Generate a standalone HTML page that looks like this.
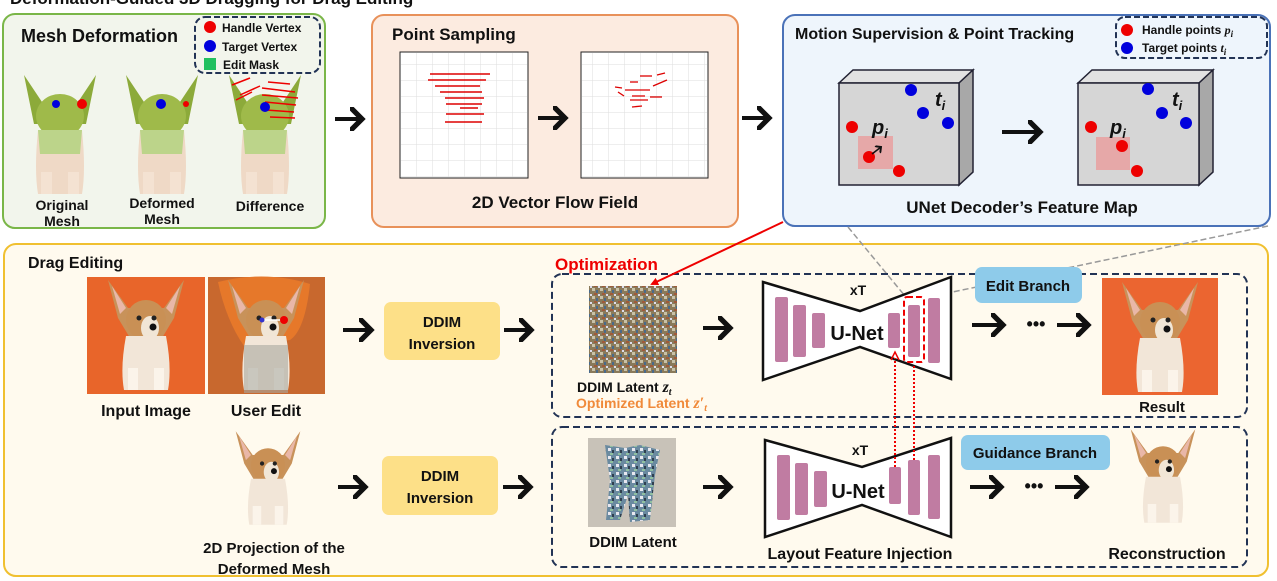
<!DOCTYPE html>
<html><head><meta charset="utf-8"><style>
html,body{margin:0;padding:0;background:#fff;}
svg{display:block;}
text{font-family:"Liberation Sans",Arial,sans-serif;font-weight:bold;fill:#111;}
</style></head><body>
<svg width="1277" height="581" viewBox="0 0 1277 581" xmlns="http://www.w3.org/2000/svg">
<defs>
<marker id="ah" markerWidth="6" markerHeight="6" refX="3" refY="3" orient="auto" markerUnits="strokeWidth">
<path d="M0,0 L3,3 L0,6" fill="none" stroke="#111" stroke-width="1.3"/>
</marker>
<marker id="rah" markerWidth="8" markerHeight="8" refX="6" refY="4" orient="auto" markerUnits="userSpaceOnUse">
<path d="M0,0 L8,4 L0,8 z" fill="#e00"/>
</marker>
<pattern id="grid" width="16" height="16" patternUnits="userSpaceOnUse">
<path d="M16 0 L0 0 0 16" fill="none" stroke="#ddd" stroke-width="1"/>
</pattern>
<pattern id="noise" width="8" height="8" patternUnits="userSpaceOnUse">
<rect width="8" height="8" fill="#8a7a5a"/>
<rect x="0" y="0" width="3" height="3" fill="#c9c2a8"/>
<rect x="4" y="2" width="2" height="3" fill="#4a6a8a"/>
<rect x="2" y="5" width="3" height="2" fill="#a05a3a"/>
<rect x="6" y="6" width="2" height="2" fill="#dde"/>
</pattern>
<pattern id="noise2" width="8" height="8" patternUnits="userSpaceOnUse">
<rect width="8" height="8" fill="#6a8aa0"/>
<rect x="0" y="0" width="3" height="3" fill="#e8e8f0"/>
<rect x="4" y="2" width="2" height="3" fill="#304050"/>
<rect x="2" y="5" width="3" height="2" fill="#90c0a0"/>
</pattern>
<g id="pdog">
<path d="M-38,-48 L-18,-20 L18,-20 L38,-48 L28,-10 L16,10 L-16,10 L-28,-10 z" fill="#c8925a"/>
<path d="M-34,-42 L-20,-20 L-26,-14 z" fill="#e9b7a8"/>
<path d="M34,-42 L20,-20 L26,-14 z" fill="#e9b7a8"/>
<ellipse cx="0" cy="-8" rx="20" ry="20" fill="#c99055"/>
<ellipse cx="4" cy="0" rx="9" ry="12" fill="#f1e6d6"/>
<circle cx="-7" cy="-10" r="2.5" fill="#222"/><circle cx="8" cy="-10" r="2.5" fill="#222"/>
<circle cx="7" cy="-1" r="3.5" fill="#111"/>
<path d="M-20,8 Q-26,40 -22,62 L22,62 Q26,40 20,8 z" fill="#f2e6d8"/>
<rect x="-18" y="40" width="10" height="22" fill="#fbf4ea"/><rect x="8" y="40" width="10" height="22" fill="#fbf4ea"/>
</g>
<g id="mdog">
<path d="M-36,-55 L-14,-22 L14,-22 L36,-55 L26,-6 L-26,-6 z" fill="#8caa3a"/>
<ellipse cx="0" cy="-14" rx="24" ry="22" fill="#9fba4a"/>
<path d="M-22,0 Q-26,40 -22,64 L22,64 Q26,40 22,0 z" fill="#efd9c6"/>
<path d="M-22,0 L22,0 L20,24 L-20,24 z" fill="#bcd48a"/>
<rect x="-19" y="42" width="11" height="22" fill="#f4e2d2"/><rect x="8" y="42" width="11" height="22" fill="#f4e2d2"/>
</g>
</defs>

<text x="10" y="4" font-size="17">Deformation-Guided 3D Dragging for Drag Editing</text>

<!-- Green panel -->
<rect x="3" y="14" width="322" height="214" rx="12" fill="#f2f5ec" stroke="#7ab648" stroke-width="2"/>
<text x="21" y="42" font-size="18">Mesh Deformation</text>
<rect x="195" y="17" width="125" height="56" rx="10" fill="none" stroke="#223355" stroke-width="2" stroke-dasharray="6,3"/>
<circle cx="210" cy="27" r="6" fill="#e00"/><text x="222" y="32" font-size="12">Handle Vertex</text>
<circle cx="210" cy="46" r="6" fill="#00d"/><text x="222" y="51" font-size="12">Target Vertex</text>
<rect x="204" y="58" width="12" height="12" fill="#22c060"/><text x="223" y="69" font-size="12">Edit Mask</text>
<use href="#mdog" x="60" y="130"/>
<circle cx="56" cy="104" r="4" fill="#00d"/><circle cx="82" cy="104" r="5" fill="#e00"/>
<use href="#mdog" x="162" y="130"/>
<circle cx="161" cy="104" r="5" fill="#00d"/><circle cx="186" cy="104" r="3" fill="#e00"/>
<use href="#mdog" x="265" y="130"/>
<g stroke="#e00" stroke-width="1.5">
<line x1="232" y1="85" x2="250" y2="78"/><line x1="240" y1="95" x2="260" y2="86"/><line x1="262" y1="88" x2="295" y2="92"/>
<line x1="262" y1="95" x2="298" y2="98"/><line x1="265" y1="102" x2="296" y2="105"/><line x1="266" y1="110" x2="294" y2="112"/>
<line x1="270" y1="117" x2="295" y2="118"/><line x1="268" y1="82" x2="290" y2="84"/><line x1="236" y1="100" x2="252" y2="92"/>
</g>
<circle cx="265" cy="107" r="5" fill="#00d"/>
<text x="62" y="210" font-size="14" text-anchor="middle">Original</text>
<text x="62" y="226" font-size="14" text-anchor="middle">Mesh</text>
<text x="162" y="208" font-size="14" text-anchor="middle">Deformed</text>
<text x="162" y="224" font-size="14" text-anchor="middle">Mesh</text>
<text x="270" y="211" font-size="14" text-anchor="middle">Difference</text>

<line x1="335" y1="119" x2="362" y2="119" stroke="#111" stroke-width="4" marker-end="url(#ah)"/>

<!-- Orange panel -->
<rect x="372" y="15" width="366" height="212" rx="12" fill="#fcebe0" stroke="#e8915a" stroke-width="2"/>
<text x="392" y="40" font-size="17">Point Sampling</text>
<rect x="400" y="52" width="128" height="126" fill="#fff" stroke="#222" stroke-width="1"/>
<rect x="401" y="53" width="126" height="124" fill="url(#grid)"/>
<g stroke="#d00" stroke-width="1.5">
<line x1="430" y1="74" x2="490" y2="74"/><line x1="428" y1="80" x2="486" y2="80"/><line x1="435" y1="86" x2="480" y2="86"/>
<line x1="440" y1="92" x2="482" y2="92"/><line x1="445" y1="98" x2="484" y2="98"/><line x1="446" y1="104" x2="482" y2="104"/>
<line x1="460" y1="108" x2="478" y2="108"/><line x1="446" y1="114" x2="484" y2="114"/><line x1="445" y1="122" x2="482" y2="122"/>
</g>
<line x1="538" y1="118" x2="565" y2="118" stroke="#111" stroke-width="4" marker-end="url(#ah)"/>
<rect x="581" y="52" width="127" height="126" fill="#fff" stroke="#222" stroke-width="1"/>
<rect x="582" y="53" width="125" height="124" fill="url(#grid)"/>
<g stroke="#d00" stroke-width="1.3">
<line x1="640" y1="76" x2="652" y2="76"/><line x1="657" y1="75" x2="665" y2="73"/><line x1="630" y1="82" x2="638" y2="82"/>
<line x1="653" y1="86" x2="667" y2="80"/><line x1="615" y1="87" x2="622" y2="88"/><line x1="625" y1="90" x2="650" y2="90"/>
<line x1="618" y1="92" x2="624" y2="96"/><line x1="632" y1="96" x2="645" y2="96"/><line x1="650" y1="97" x2="662" y2="97"/>
<line x1="630" y1="100" x2="648" y2="100"/><line x1="632" y1="107" x2="642" y2="106"/>
</g>
<text x="555" y="208" font-size="17" text-anchor="middle">2D Vector Flow Field</text>

<line x1="742" y1="118" x2="769" y2="118" stroke="#111" stroke-width="4" marker-end="url(#ah)"/>

<!-- Blue panel -->
<rect x="783" y="15" width="487" height="211" rx="12" fill="#eef5fc" stroke="#4a72b8" stroke-width="2"/>
<text x="795" y="39" font-size="16">Motion Supervision &amp; Point Tracking</text>
<rect x="1116" y="17" width="151" height="41" rx="9" fill="none" stroke="#223355" stroke-width="2" stroke-dasharray="6,3"/>
<circle cx="1127" cy="30" r="6" fill="#e00"/><text x="1142" y="34" font-size="12">Handle points <tspan font-family="Liberation Serif" font-style="italic">p<tspan font-size="9" dy="3">i</tspan></tspan></text>
<circle cx="1127" cy="48" r="6" fill="#00d"/><text x="1142" y="52" font-size="12">Target points <tspan font-family="Liberation Serif" font-style="italic">t<tspan font-size="9" dy="3">i</tspan></tspan></text>
<g stroke="#223" stroke-width="1.5">
<polygon points="839,83 853,70 973,70 959,83" fill="#e2e2e2"/>
<polygon points="959,83 973,70 973,172 959,185" fill="#a8a8a8"/>
<rect x="839" y="83" width="120" height="102" fill="#d6d6d6"/>
</g>
<rect x="858" y="136" width="35" height="33" fill="#e6a8a8"/>
<circle cx="911" cy="90" r="6" fill="#00d"/><circle cx="923" cy="113" r="6" fill="#00d"/><circle cx="948" cy="123" r="6" fill="#00d"/>
<circle cx="852" cy="127" r="6" fill="#e00"/><circle cx="869" cy="157" r="6" fill="#e00"/><circle cx="899" cy="171" r="6" fill="#e00"/>
<line x1="872" y1="154" x2="881" y2="147" stroke="#111" stroke-width="1.5" marker-end="url(#ah)"/>
<text x="935" y="106" font-size="20" font-family="Liberation Serif" font-style="italic">t<tspan font-size="13" dy="4">i</tspan></text>
<text x="872" y="134" font-size="20" font-family="Liberation Serif" font-style="italic">p<tspan font-size="13" dy="4">i</tspan></text>
<line x1="1002" y1="132" x2="1040" y2="132" stroke="#111" stroke-width="4" marker-end="url(#ah)"/>
<g stroke="#223" stroke-width="1.5">
<polygon points="1078,83 1092,70 1213,70 1199,83" fill="#e2e2e2"/>
<polygon points="1199,83 1213,70 1213,172 1199,185" fill="#a8a8a8"/>
<rect x="1078" y="83" width="121" height="102" fill="#d6d6d6"/>
</g>
<rect x="1096" y="137" width="34" height="33" fill="#e6a8a8"/>
<circle cx="1148" cy="89" r="6" fill="#00d"/><circle cx="1162" cy="113" r="6" fill="#00d"/><circle cx="1186" cy="123" r="6" fill="#00d"/>
<circle cx="1091" cy="127" r="6" fill="#e00"/><circle cx="1122" cy="146" r="6" fill="#e00"/><circle cx="1137" cy="171" r="6" fill="#e00"/>
<text x="1172" y="106" font-size="20" font-family="Liberation Serif" font-style="italic">t<tspan font-size="13" dy="4">i</tspan></text>
<text x="1110" y="134" font-size="20" font-family="Liberation Serif" font-style="italic">p<tspan font-size="13" dy="4">i</tspan></text>
<text x="1022" y="213" font-size="17" text-anchor="middle">UNet Decoder’s Feature Map</text>

<!-- Yellow panel -->
<rect x="4" y="244" width="1264" height="332" rx="12" fill="#fffaee" stroke="#f0c030" stroke-width="2"/>
<text x="28" y="268" font-size="16">Drag Editing</text>

<line x1="848" y1="227" x2="905" y2="296" stroke="#999" stroke-width="1.5" stroke-dasharray="6,3"/>
<line x1="1268" y1="226" x2="924" y2="298" stroke="#999" stroke-width="1.5" stroke-dasharray="6,3"/>

<rect x="87" y="277" width="118" height="117" fill="#e8652a"/>
<use href="#pdog" x="146" y="328"/>
<rect x="208" y="277" width="117" height="117" fill="#c8682e"/>
<path d="M218,282 Q266,270 310,284 Q305,330 290,340 L244,346 Q226,320 218,282 z" fill="#e6782a"/>
<use href="#pdog" x="266" y="328"/>
<rect x="244" y="345" width="44" height="48" fill="#a8a8a0" opacity="0.6"/>
<line x1="285" y1="320" x2="262" y2="320" stroke="#fff" stroke-width="1.5"/>
<circle cx="284" cy="320" r="4" fill="#e00"/><circle cx="262" cy="320" r="2.5" fill="#33c"/>
<text x="146" y="416" font-size="16" text-anchor="middle">Input Image</text>
<text x="266" y="416" font-size="16" text-anchor="middle">User Edit</text>
<use href="#pdog" x="268" y="472" transform="translate(268,472) scale(0.85) translate(-268,-472)"/>
<text x="274" y="553" font-size="15" text-anchor="middle">2D Projection of the</text>
<text x="274" y="574" font-size="15" text-anchor="middle">Deformed Mesh</text>

<line x1="343" y1="330" x2="371" y2="330" stroke="#111" stroke-width="4" marker-end="url(#ah)"/>
<rect x="384" y="302" width="116" height="58" rx="7" fill="#fde088"/>
<text x="442" y="327" font-size="15" text-anchor="middle">DDIM</text>
<text x="442" y="349" font-size="15" text-anchor="middle">Inversion</text>
<line x1="504" y1="330" x2="531" y2="330" stroke="#111" stroke-width="4" marker-end="url(#ah)"/>

<line x1="338" y1="487" x2="365" y2="487" stroke="#111" stroke-width="4" marker-end="url(#ah)"/>
<rect x="382" y="456" width="116" height="59" rx="7" fill="#fde088"/>
<text x="440" y="481" font-size="15" text-anchor="middle">DDIM</text>
<text x="440" y="503" font-size="15" text-anchor="middle">Inversion</text>
<line x1="503" y1="487" x2="530" y2="487" stroke="#111" stroke-width="4" marker-end="url(#ah)"/>

<rect x="552" y="274" width="695" height="143" rx="10" fill="none" stroke="#223355" stroke-width="2" stroke-dasharray="7,4"/>
<rect x="552" y="427" width="695" height="140" rx="10" fill="none" stroke="#223355" stroke-width="2" stroke-dasharray="7,4"/>

<text x="555" y="270" font-size="17" style="fill:#e00">Optimization</text>
<line x1="783" y1="222" x2="652" y2="284" stroke="#e00" stroke-width="2" marker-end="url(#rah)"/>

<rect x="589" y="286" width="88" height="87" fill="url(#noise)"/>
<text x="577" y="392" font-size="14">DDIM Latent <tspan font-family="Liberation Serif" font-style="italic" font-size="16">z<tspan font-size="10" dy="3">t</tspan></tspan></text>
<text x="576" y="408" font-size="14" style="fill:#f08a3a">Optimized Latent <tspan font-family="Liberation Serif" font-style="italic" font-size="16">z′<tspan font-size="10" dy="3">t</tspan></tspan></text>

<rect x="588" y="438" width="88" height="89" fill="#c8c2b8"/>
<path d="M605,445 L625,448 L640,445 L660,450 L655,475 L650,520 L630,522 L628,495 L620,520 L606,520 L610,480 z" fill="url(#noise2)"/>
<text x="633" y="547" font-size="15" text-anchor="middle">DDIM Latent</text>

<line x1="703" y1="328" x2="730" y2="328" stroke="#111" stroke-width="4" marker-end="url(#ah)"/>
<line x1="703" y1="487" x2="730" y2="487" stroke="#111" stroke-width="4" marker-end="url(#ah)"/>

<polygon points="763,282 860,311 951,277 951,379 860,347 763,380" fill="#fff" stroke="#111" stroke-width="2.5"/>
<g fill="#c07ca2">
<rect x="775" y="297" width="13" height="65" rx="2"/><rect x="793" y="305" width="13" height="52" rx="2"/><rect x="812" y="313" width="13" height="35" rx="2"/>
<rect x="888" y="313" width="12" height="35" rx="2"/><rect x="908" y="305" width="12" height="52" rx="2"/><rect x="928" y="298" width="12" height="65" rx="2"/>
</g>
<rect x="904" y="297" width="20" height="65" rx="3" fill="none" stroke="#e00" stroke-width="2" stroke-dasharray="6,3"/>
<text x="858" y="295" font-size="14" text-anchor="middle">xT</text>
<text x="857" y="340" font-size="20" text-anchor="middle">U-Net</text>
<rect x="975" y="267" width="107" height="36" rx="7" fill="#8ecbea"/>
<text x="1028" y="291" font-size="15" text-anchor="middle">Edit Branch</text>
<line x1="972" y1="325" x2="1003" y2="325" stroke="#111" stroke-width="4" marker-end="url(#ah)"/>
<text x="1036" y="330" font-size="18" text-anchor="middle">•••</text>
<line x1="1057" y1="325" x2="1088" y2="325" stroke="#111" stroke-width="4" marker-end="url(#ah)"/>
<rect x="1102" y="278" width="116" height="117" fill="#eb6530"/>
<use href="#pdog" x="1160" y="330"/>
<text x="1162" y="412" font-size="15" text-anchor="middle">Result</text>

<polygon points="765,440 862,467 951,438 951,537 862,505 765,537" fill="#fff" stroke="#111" stroke-width="2.5"/>
<g fill="#c07ca2">
<rect x="777" y="455" width="13" height="65" rx="2"/><rect x="795" y="463" width="13" height="52" rx="2"/><rect x="814" y="471" width="13" height="36" rx="2"/>
<rect x="889" y="467" width="12" height="37" rx="2"/><rect x="908" y="460" width="12" height="55" rx="2"/><rect x="928" y="455" width="12" height="64" rx="2"/>
</g>
<text x="860" y="455" font-size="14" text-anchor="middle">xT</text>
<text x="858" y="498" font-size="20" text-anchor="middle">U-Net</text>
<text x="860" y="559" font-size="16" text-anchor="middle">Layout Feature Injection</text>
<rect x="961" y="435" width="149" height="35" rx="7" fill="#8ecbea"/>
<text x="1035" y="458" font-size="15" text-anchor="middle">Guidance Branch</text>
<line x1="970" y1="487" x2="1001" y2="487" stroke="#111" stroke-width="4" marker-end="url(#ah)"/>
<text x="1034" y="492" font-size="18" text-anchor="middle">•••</text>
<line x1="1055" y1="487" x2="1086" y2="487" stroke="#111" stroke-width="4" marker-end="url(#ah)"/>
<use href="#pdog" x="1163" y="470" transform="translate(1163,470) scale(0.85) translate(-1163,-470)"/>
<text x="1167" y="559" font-size="16" text-anchor="middle">Reconstruction</text>

<line x1="895" y1="467" x2="895" y2="358" stroke="#e00" stroke-width="2" stroke-dasharray="2,2"/>
<path d="M891,360 L895,352 L899,360" fill="none" stroke="#e00" stroke-width="1.5"/>
<line x1="914" y1="460" x2="914" y2="364" stroke="#e00" stroke-width="2" stroke-dasharray="2,2"/>
</svg>
</body></html>
